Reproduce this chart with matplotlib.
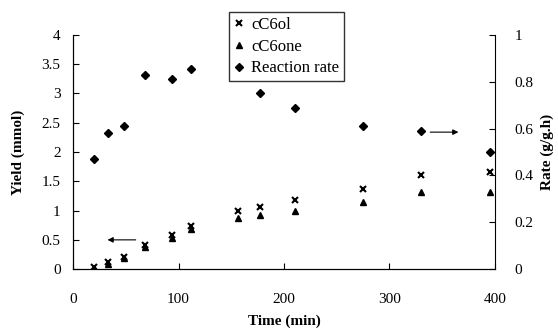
import matplotlib
matplotlib.use('Agg')
import matplotlib.pyplot as plt

# data
t_yield = [20, 33, 48, 68, 94, 112, 156, 177, 210, 275, 330, 395]
c6ol = [0.04, 0.12, 0.21, 0.41, 0.58, 0.74, 0.99, 1.06, 1.18, 1.37, 1.61, 1.66]
c6one = [0.02, 0.09, 0.19, 0.38, 0.53, 0.69, 0.87, 0.93, 1.0, 1.14, 1.32, 1.32]
t_rate = [20, 33, 48, 68, 94, 112, 177, 210, 275, 330, 395]
rate = [0.47, 0.58, 0.61, 0.83, 0.81, 0.855, 0.75, 0.69, 0.61, 0.59, 0.50]

plt.rcParams['font.family'] = 'Liberation Serif'
plt.rcParams['font.size'] = 11

fig = plt.figure(figsize=(5.58, 3.36), dpi=100)
ax = fig.add_axes([0.131, 0.199, 0.756, 0.697])
ax2 = ax.twinx()

h1, = ax.plot(t_yield, c6ol, linestyle='none', marker='x', color='black', ms=4.5, mew=1.5, label='cC6ol')
h2, = ax.plot(t_yield, c6one, linestyle='none', marker='^', color='black', ms=4.5, label='cC6one')
h3, = ax2.plot(t_rate, rate, linestyle='none', marker='D', color='black', ms=3.8, label='Reaction rate')

ax.set_xlim(0, 400)
ax.set_ylim(0, 4)
ax2.set_ylim(0, 1)
ax.set_xticks([0, 100, 200, 300, 400])
ax.set_yticks([0, 0.5, 1, 1.5, 2, 2.5, 3, 3.5, 4])
ax.set_yticklabels(['0', '0.5', '1', '1.5', '2', '2.5', '3', '3.5', '4'])
ax2.set_yticks([0, 0.2, 0.4, 0.6, 0.8, 1])
ax2.set_yticklabels(['0', '0.2', '0.4', '0.6', '0.8', '1'])

for a in (ax, ax2):
    a.spines['top'].set_visible(False)
ax.spines['right'].set_visible(False)
ax.tick_params(axis='x', direction='in', length=4, pad=17)
ax.tick_params(axis='y', direction='in', length=4, pad=9)
ax2.tick_params(axis='y', direction='in', length=4, pad=14)

ax.set_xlabel('Time (min)', fontweight='bold', labelpad=6)
ax.set_ylabel('Yield (mmol)', fontweight='bold', labelpad=12)
ax2.set_ylabel('Rate (g/g.h)', fontweight='bold', labelpad=5)

# arrows pointing to the axes
ax.annotate('', xy=(30, 0.5), xytext=(62, 0.5),
            arrowprops=dict(arrowstyle='-|>', color='black', lw=0.8, mutation_scale=8))
ax2.annotate('', xy=(368, 0.585), xytext=(336, 0.585),
             arrowprops=dict(arrowstyle='-|>', color='black', lw=0.8, mutation_scale=8))

leg = fig.legend(handles=[h1, h2, h3], loc='upper left', bbox_to_anchor=(0.396, 0.99),
                 frameon=True, fancybox=False, edgecolor='black', handlelength=0.6,
                 handletextpad=0.4, borderpad=0.3, labelspacing=0.35, fontsize=12)
leg.get_frame().set_linewidth(1.0)

fig.savefig('out.png', dpi=100)
